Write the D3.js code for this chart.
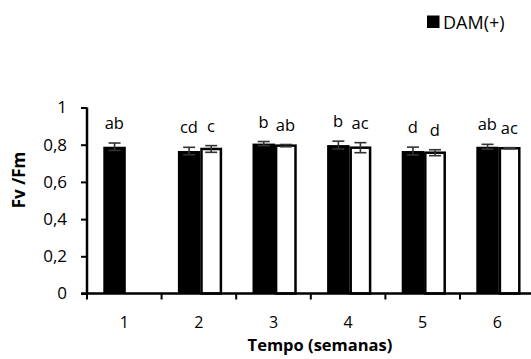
<!DOCTYPE html>
<html>
<head>
<meta charset="utf-8">
<script src="https://cdn.jsdelivr.net/npm/d3@7"></script>
<style>
  body { margin: 0; background: #fff; }
  svg { display: block; }
  text { font-family: "Open Sans", "Noto Sans", sans-serif; fill: #000; }
</style>
</head>
<body>
<svg id="chart" width="531" height="359"></svg>
<script>
// Fv/Fm per week for the two treatments
const weeks = ["1", "2", "3", "4", "5", "6"];
const damPlus = [0.789, 0.766, 0.806, 0.798, 0.766, 0.789];
const damPlusErr = [0.020, 0.020, 0.011, 0.021, 0.021, 0.013];
const damMinus = [null, 0.777, 0.795, 0.784, 0.757, 0.781];
const damMinusErr = [null, 0.018, 0.006, 0.027, 0.016, 0.003];
const lettersPlus = ["ab", "cd", "b", "b", "d", "ab"];
const lettersMinus = [null, "c", "ab", "ac", "d", "ac"];
const yTicks = [0, 0.2, 0.4, 0.6, 0.8, 1];
const yTickLabels = ["0", "0,2", "0,4", "0,6", "0,8", "1"];
const legendLabel = "DAM(+)";

const svg = d3.select("#chart");

const x0 = 87, bandW = 74.6;
const x = d3.scaleBand().domain(weeks).range([x0, x0 + bandW * weeks.length]).padding(0);
const y = d3.scaleLinear().domain([0, 1]).range([293.5, 107.5]);

const center = d => x(d) + x.bandwidth() / 2;

// bars: filled black series on the left, outlined white series on the right
const g = svg.append("g");
g.selectAll("rect.plus").data(weeks).join("rect")
  .attr("class", "plus")
  .attr("x", d => center(d) - 21)
  .attr("width", 22.5)
  .attr("y", (d, i) => y(damPlus[i]))
  .attr("height", (d, i) => y(0) - y(damPlus[i]))
  .attr("fill", "#000");

const minusIdx = weeks.map((d, i) => i).filter(i => damMinus[i] != null);
g.selectAll("rect.minus").data(minusIdx).join("rect")
  .attr("class", "minus")
  .attr("x", i => center(weeks[i]) + 2.6)
  .attr("width", 19.4)
  .attr("y", i => y(damMinus[i]))
  .attr("height", i => y(0) - y(damMinus[i]))
  .attr("fill", "#fff")
  .attr("stroke", "#000")
  .attr("stroke-width", 2.5);

// error bars
function errorBar(cx, v, e) {
  const eg = g.append("g").attr("stroke", "#333").attr("stroke-width", 1.6);
  eg.append("line").attr("x1", cx).attr("x2", cx).attr("y1", y(v + e)).attr("y2", y(v - e));
  eg.append("line").attr("x1", cx - 6).attr("x2", cx + 6).attr("y1", y(v + e)).attr("y2", y(v + e));
  eg.append("line").attr("x1", cx - 6).attr("x2", cx + 6).attr("y1", y(v - e)).attr("y2", y(v - e));
}
weeks.forEach((d, i) => {
  errorBar(center(d) - 9.75, damPlus[i], damPlusErr[i]);
  if (damMinus[i] != null) errorBar(center(d) + 12.3, damMinus[i], damMinusErr[i]);
});

// significance letters above each bar
weeks.forEach((d, i) => {
  g.append("text").attr("x", center(d) - 10).attr("y", y(damPlus[i] + damPlusErr[i]) - 14)
    .attr("text-anchor", "middle").attr("font-size", 16.5).text(lettersPlus[i]);
  if (lettersMinus[i]) {
    g.append("text").attr("x", center(d) + 12).attr("y", y(damMinus[i] + damMinusErr[i]) - 14)
      .attr("text-anchor", "middle").attr("font-size", 16.5).text(lettersMinus[i]);
  }
});

// y axis
const yAxis = d3.axisLeft(y).tickValues(yTicks).tickFormat((d, i) => yTickLabels[i]).tickSize(6).tickPadding(14);
const ya = svg.append("g").attr("transform", `translate(${x0},0)`).call(yAxis);
ya.select(".domain").attr("stroke", "#000").attr("stroke-width", 2.5).attr("d", `M0,${y(1)}V${y(0)}`);
ya.selectAll(".tick line").attr("stroke", "#000").attr("stroke-width", 2);
ya.selectAll(".tick text").attr("font-size", 17).attr("font-family", "'Open Sans', sans-serif");

// x axis with ticks between categories
const xa = svg.append("g").attr("transform", `translate(0,${y(0)})`);
xa.append("line").attr("x1", x0 - 6).attr("x2", 531).attr("y1", 0).attr("y2", 0)
  .attr("stroke", "#000").attr("stroke-width", 2.5);
const boundaries = weeks.map(d => x(d));
xa.selectAll("line.tick").data(boundaries).join("line")
  .attr("class", "tick")
  .attr("x1", d => d).attr("x2", d => d).attr("y1", 0).attr("y2", 6)
  .attr("stroke", "#000").attr("stroke-width", 2);
xa.selectAll("text").data(weeks).join("text")
  .attr("x", d => center(d)).attr("y", 34)
  .attr("text-anchor", "middle").attr("font-size", 16).text(d => d);

// axis titles
svg.append("text").attr("x", 320).attr("y", 350.5)
  .attr("text-anchor", "middle").attr("font-size", 16.5).attr("font-weight", "bold")
  .text("Tempo (semanas)");
svg.append("text").attr("transform", "translate(25,180) rotate(-90)")
  .attr("text-anchor", "middle").attr("font-size", 17).attr("font-weight", "bold")
  .text("Fv /Fm");

// legend
const lg = svg.append("g");
lg.append("rect").attr("x", 427).attr("y", 15.5).attr("width", 12.5).attr("height", 12.5).attr("fill", "#000");
lg.append("text").attr("x", 443).attr("y", 29).attr("font-size", 18).text(legendLabel);
</script>
</body>
</html>
